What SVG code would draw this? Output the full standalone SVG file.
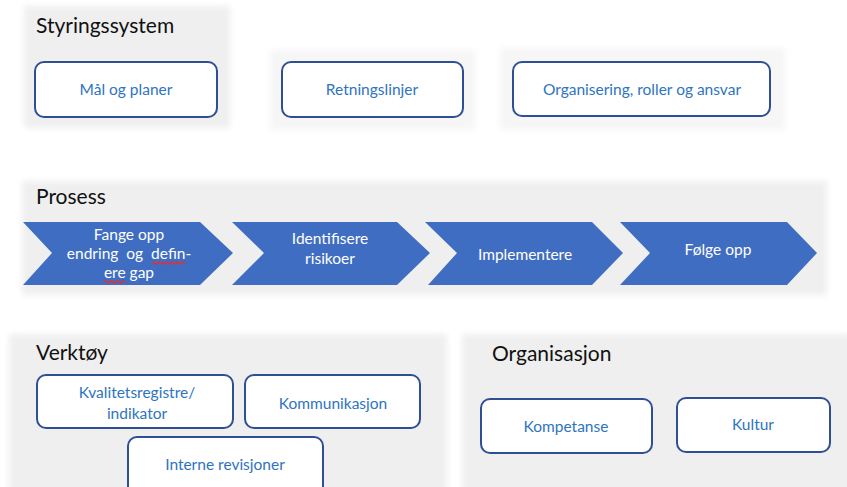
<svg xmlns="http://www.w3.org/2000/svg" width="847" height="487" viewBox="0 0 847 487">
<defs>
<filter id="soft" x="-10%" y="-10%" width="120%" height="120%"><feGaussianBlur stdDeviation="3"/></filter>
<style>
.panel{fill:#EFEFEF;filter:url(#soft)}
.panel2{fill:#F6F6F6;filter:url(#soft)}
.box{fill:#FFFFFF;stroke:#2F4F94;stroke-width:2}
.btxt{font-family:Lato,"Open Sans",sans-serif;font-size:15.5px;fill:#2E74C0;text-anchor:middle}
.title{font-family:Lato,"Open Sans",sans-serif;font-size:21px;fill:#111111}
.chev{fill:#3F6DC2}
.ctxt{font-family:Lato,"Open Sans",sans-serif;font-size:15.5px;fill:#FFFFFF;text-anchor:middle}
.squig{fill:none;stroke:#E03030;stroke-width:1.3}
</style>
</defs>
<rect width="847" height="487" fill="#FFFFFF"/>
<g id="backgrounds">
<rect class="panel" x="24" y="6" width="206" height="122"/>
<rect class="panel2" x="270" y="50" width="205" height="80"/>
<rect class="panel2" x="500" y="48" width="285" height="82"/>
<rect class="panel" x="22" y="181" width="805" height="114"/>
<rect class="panel" x="9" y="334" width="438" height="160"/>
<rect class="panel" x="462" y="334" width="392" height="160"/>
</g>
<g id="titles">
<text class="title" x="36" y="33">Styringssystem</text>
<text class="title" x="36" y="204">Prosess</text>
<text class="title" x="36" y="360">Verktøy</text>
<text class="title" x="492" y="361">Organisasjon</text>
</g>
<g id="node-maal">
<rect class="box" x="35" y="62" width="182" height="55" rx="9"/>
<text class="btxt" x="126" y="95">Mål og planer</text>
</g>
<g id="node-retningslinjer">
<rect class="box" x="282" y="62" width="181" height="55" rx="9"/>
<text class="btxt" x="372" y="95">Retningslinjer</text>
</g>
<g id="node-organisering">
<rect class="box" x="513" y="62" width="257" height="54" rx="9"/>
<text class="btxt" x="642" y="95">Organisering, roller og ansvar</text>
</g>
<g id="node-fange">
<polygon class="chev" points="23,222 200,222 233,253 200,285 23,285 52,253"/>
<text class="ctxt" x="129" y="240">Fange opp</text>
<text class="ctxt" x="129" y="259" xml:space="preserve">endring  og  defin-</text>
<text class="ctxt" x="129" y="278">ere gap</text>
<path class="squig" d="M152,263 q1.5,-2 3,0 t3,0 t3,0 t3,0 t3,0 t3,0 t3,0 t3,0 t3,0 t3,0 t3,0"/>
<path class="squig" d="M104,282 q1.5,-2 3,0 t3,0 t3,0 t3,0 t3,0 t3,0 t3,0"/>
</g>
<g id="node-identifisere">
<polygon class="chev" points="232,222 397,222 430,253 397,285 232,285 264,253"/>
<text class="ctxt" x="330" y="244">Identifisere</text>
<text class="ctxt" x="330" y="264">risikoer</text>
</g>
<g id="node-implementere">
<polygon class="chev" points="425,222 592,222 623,253 592,285 428,285 457,253"/>
<text class="ctxt" x="525" y="260">Implementere</text>
</g>
<g id="node-folge">
<polygon class="chev" points="620,222 787,222 817,253 787,285 620,285 650,253"/>
<text class="ctxt" x="718" y="255">Følge opp</text>
</g>
<g id="node-kvalitet">
<rect class="box" x="37" y="375" width="196" height="53" rx="9"/>
<text class="btxt" x="137" y="398">Kvalitetsregistre/</text>
<text class="btxt" x="137" y="419">indikator</text>
</g>
<g id="node-kommunikasjon">
<rect class="box" x="245" y="375" width="175" height="53" rx="9"/>
<text class="btxt" x="333" y="409">Kommunikasjon</text>
</g>
<g id="node-interne">
<rect class="box" x="128" y="437" width="195" height="60" rx="9"/>
<text class="btxt" x="225" y="470">Interne revisjoner</text>
</g>
<g id="node-kompetanse">
<rect class="box" x="481" y="399" width="171" height="54" rx="9"/>
<text class="btxt" x="566" y="432">Kompetanse</text>
</g>
<g id="node-kultur">
<rect class="box" x="677" y="398" width="153" height="54" rx="9"/>
<text class="btxt" x="753" y="430">Kultur</text>
</g>
<g id="connectors"></g>
</svg>
